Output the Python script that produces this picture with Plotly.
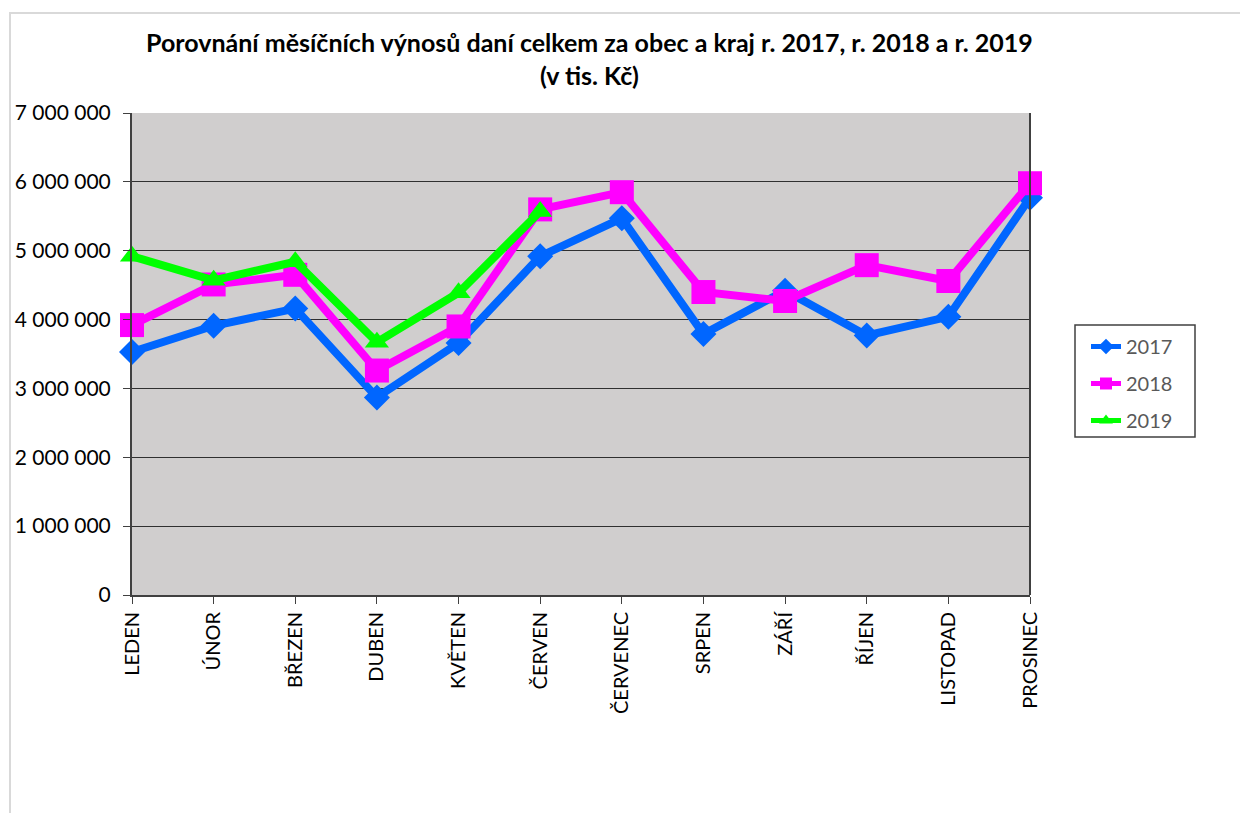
import plotly.graph_objects as go

# Měsíce a výnosy daní (v tis. Kč)
mesice = ["LEDEN", "ÚNOR", "BŘEZEN", "DUBEN", "KVĚTEN", "ČERVEN",
          "ČERVENEC", "SRPEN", "ZÁŘÍ", "ŘÍJEN", "LISTOPAD", "PROSINEC"]
r2017 = [3530000, 3910000, 4160000, 2870000, 3660000, 4920000,
         5470000, 3790000, 4420000, 3770000, 4040000, 5770000]
r2018 = [3920000, 4510000, 4650000, 3260000, 3900000, 5600000,
         5850000, 4400000, 4270000, 4790000, 4560000, 5980000]
r2019 = [4920000, 4570000, 4840000, 3670000, 4390000, 5570000]
y_ticks = [0, 1000000, 2000000, 3000000, 4000000, 5000000, 6000000, 7000000]

# geometrie (px ve stránce; stránka má okraj 8 px)
OFF = 8
W, H = 1248 - OFF, 813 - OFF
L, R, T, B = 132 - OFF, 1030 - OFF, 113 - OFF, 595 - OFF
pw, ph = R - L, B - T


def px_x(x):
    return (x - OFF - L) / pw


def px_y(y):
    return (B - (y - OFF)) / ph


fig = go.Figure()

serie = [
    ("2017", r2017, "#0066FF", "diamond", 20),
    ("2018", r2018, "#FF00FF", "square", 24),
    ("2019", r2019, "#00FF00", "triangle-up", 21),
]
for nazev, hodnoty, barva, symbol, vel in serie:
    fig.add_trace(go.Scatter(
        x=mesice[:len(hodnoty)],
        y=hodnoty,
        name=nazev,
        legendgroup=nazev,
        mode="lines+markers",
        line=dict(color=barva, width=8),
        marker=dict(symbol=symbol, size=vel, color=barva),
        cliponaxis=False,
    ))

# nadpis
fig.add_annotation(
    text="<b>Porovnání měsíčních výnosů daní celkem za obec a kraj r. 2017, r. 2018 a r. 2019</b>"
         "<br><b>(v tis. Kč)</b>",
    xref="paper", yref="paper",
    x=px_x(589), y=px_y(59),
    xanchor="center", yanchor="middle",
    showarrow=False,
    font=dict(family="Lato", size=25, color="#000000"),
)

# okraj celé oblasti grafu
fig.add_shape(
    type="path",
    xref="paper", yref="paper",
    path=f"M {px_x(10)} {px_y(830)} L {px_x(10)} {px_y(13)} L {px_x(1260)} {px_y(13)}",
    line=dict(color="#D9D9D9", width=2),
    layer="below",
)
# pravý okraj plochy grafu
fig.add_shape(type="line", xref="paper", yref="paper", x0=1, x1=1, y0=0, y1=1,
              line=dict(color="#404040", width=2))
# rámeček legendy
fig.add_shape(type="rect", xref="paper", yref="paper",
              x0=px_x(1075), x1=px_x(1195), y0=px_y(437), y1=px_y(325),
              line=dict(color="#404040", width=1.5), fillcolor="white", layer="below")

fig.update_layout(
    width=W, height=H,
    margin=dict(l=L, r=W - R, t=T, b=H - B, autoexpand=False),
    paper_bgcolor="white",
    plot_bgcolor="#D0CECE",
    separators=", ",
    font=dict(family="Lato", size=20, color="#000000"),
    showlegend=True,
    legend=dict(
        x=px_x(1086), y=px_y(327),
        xanchor="left", yanchor="top",
        borderwidth=0,
        bgcolor="rgba(0,0,0,0)",
        font=dict(size=20, color="#595959"),
        tracegroupgap=8,
        itemsizing="constant",
    ),
    xaxis=dict(
        type="category",
        range=[0, len(mesice) - 1],
        tickangle=-90,
        ticks="outside", ticklen=7, tickcolor="#404040",
        showline=True, linecolor="#404040", linewidth=2,
        showgrid=False,
        tickfont=dict(size=20),
    ),
    yaxis=dict(
        range=[0, 7000000],
        tickvals=y_ticks,
        tickformat=",d",
        ticks="outside", ticklen=7, tickcolor="#404040",
        ticklabelstandoff=8,
        showline=True, linecolor="#404040", linewidth=2,
        gridcolor="#303030", gridwidth=1,
        zeroline=False,
        tickfont=dict(size=21),
    ),
)

fig.write_html("out.html")
